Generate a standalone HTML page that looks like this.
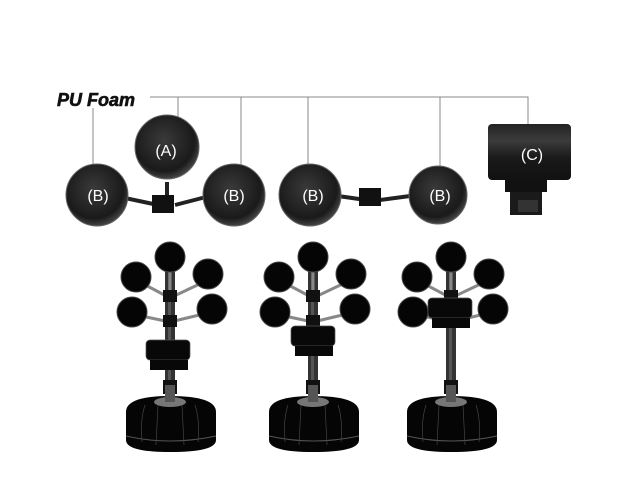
<!DOCTYPE html>
<html><head><style>body{margin:0;background:#fff}svg{display:block}</style></head><body>
<svg width="630" height="500" viewBox="0 0 630 500" xmlns="http://www.w3.org/2000/svg">
<defs>
<radialGradient id="pad" cx="45%" cy="40%" r="60%"><stop offset="0" stop-color="#3a3a3a"/><stop offset="0.8" stop-color="#1a1a1a"/><stop offset="1" stop-color="#444"/></radialGradient>
<linearGradient id="cyl" x1="0" y1="0" x2="0" y2="1"><stop offset="0" stop-color="#222"/><stop offset="0.3" stop-color="#3c3c3c"/><stop offset="0.6" stop-color="#1a1a1a"/><stop offset="1" stop-color="#111"/></linearGradient>
<g id="tree">
 <rect x="-5" y="270" width="10" height="130" fill="#333"/>
 <rect x="-2" y="270" width="3" height="130" fill="#555"/>
 <g stroke="#888" stroke-width="3"><line x1="0" y1="298" x2="-34" y2="280"/><line x1="0" y1="298" x2="38" y2="280"/><line x1="0" y1="322" x2="-38" y2="314"/><line x1="0" y1="322" x2="42" y2="312"/><line x1="0" y1="290" x2="0" y2="268"/></g>
 <rect x="-7" y="290" width="14" height="12" fill="#111"/>
 <rect x="-7" y="315" width="14" height="12" fill="#111"/>
 <g fill="#050505" stroke="#444" stroke-width="1">
 <circle cx="0" cy="257" r="15"/><circle cx="-34" cy="277" r="15"/><circle cx="38" cy="274" r="15"/><circle cx="-38" cy="312" r="15"/><circle cx="42" cy="309" r="15"/></g>
 <rect x="-7" y="380" width="14" height="14" fill="#111"/>
 <path d="M-44 412 Q-44 396 0 396 Q46 396 46 412 L46 440 Q46 452 0 452 Q-44 452 -44 440Z" fill="#050505"/>
 <path d="M-44 436 Q0 446 46 436" stroke="#555" fill="none"/>
 <path d="M-25 405 Q-30 420 -28 442 M25 405 Q30 420 28 442 M-12 405 L-14 445 M12 405 L14 445" stroke="#444" fill="none" stroke-width=".7"/>
 <ellipse cx="0" cy="402" rx="16" ry="5" fill="#777"/>
 <rect x="-5" y="385" width="10" height="17" fill="#555"/>
</g>
<g id="clamp">
 <rect x="-22" y="0" width="44" height="20" rx="4" fill="#080808" stroke="#555" stroke-width=".7"/>
 <rect x="-18" y="20" width="38" height="10" fill="#080808"/>
</g>
</defs>
<text x="57" y="106" font-family="Liberation Sans, sans-serif" font-weight="bold" font-style="italic" font-size="18" fill="#111" stroke="#111" stroke-width=".6">PU Foam</text>
<g stroke="#888" stroke-width="1" fill="none">
 <path d="M150 97 H528 V135"/><line x1="178" y1="97" x2="178" y2="140"/><line x1="241" y1="97" x2="241" y2="176"/><line x1="308" y1="97" x2="308" y2="176"/><line x1="440" y1="97" x2="440" y2="176"/><line x1="93" y1="108" x2="93" y2="165"/>
</g>
<g stroke="#222" stroke-width="4"><line x1="125" y1="198" x2="158" y2="205"/><line x1="175" y1="205" x2="206" y2="197"/><line x1="167" y1="182" x2="167" y2="200"/><line x1="338" y1="196" x2="366" y2="200"/><line x1="380" y1="200" x2="410" y2="196"/></g>
<rect x="152" y="195" width="22" height="18" fill="#111"/>
<rect x="359" y="188" width="22" height="18" fill="#111"/>
<g fill="url(#pad)" stroke="#666" stroke-width="1">
<circle cx="167" cy="147" r="32"/><circle cx="97" cy="195" r="31"/><circle cx="234" cy="195" r="31"/><circle cx="310" cy="195" r="31"/><circle cx="438" cy="195" r="29"/></g>
<g fill="#fff" font-family="Liberation Sans, sans-serif" font-size="16" text-anchor="middle">
<text x="166" y="156">(A)</text><text x="98" y="201">(B)</text><text x="234" y="201">(B)</text><text x="313" y="201">(B)</text><text x="440" y="201">(B)</text></g>
<rect x="488" y="124" width="83" height="56" rx="4" fill="url(#cyl)"/>
<text x="532" y="160" fill="#fff" font-family="Liberation Sans, sans-serif" font-size="16" text-anchor="middle">(C)</text>
<rect x="505" y="180" width="42" height="12" fill="#111"/><rect x="510" y="192" width="32" height="23" fill="#1a1a1a"/><rect x="518" y="200" width="20" height="12" fill="#333"/>
<use href="#tree" x="170"/><use href="#tree" x="313"/><use href="#tree" x="451"/>
<use href="#clamp" x="168" y="340"/><use href="#clamp" x="313" y="326"/><use href="#clamp" x="450" y="298"/>
</svg>
</body></html>
